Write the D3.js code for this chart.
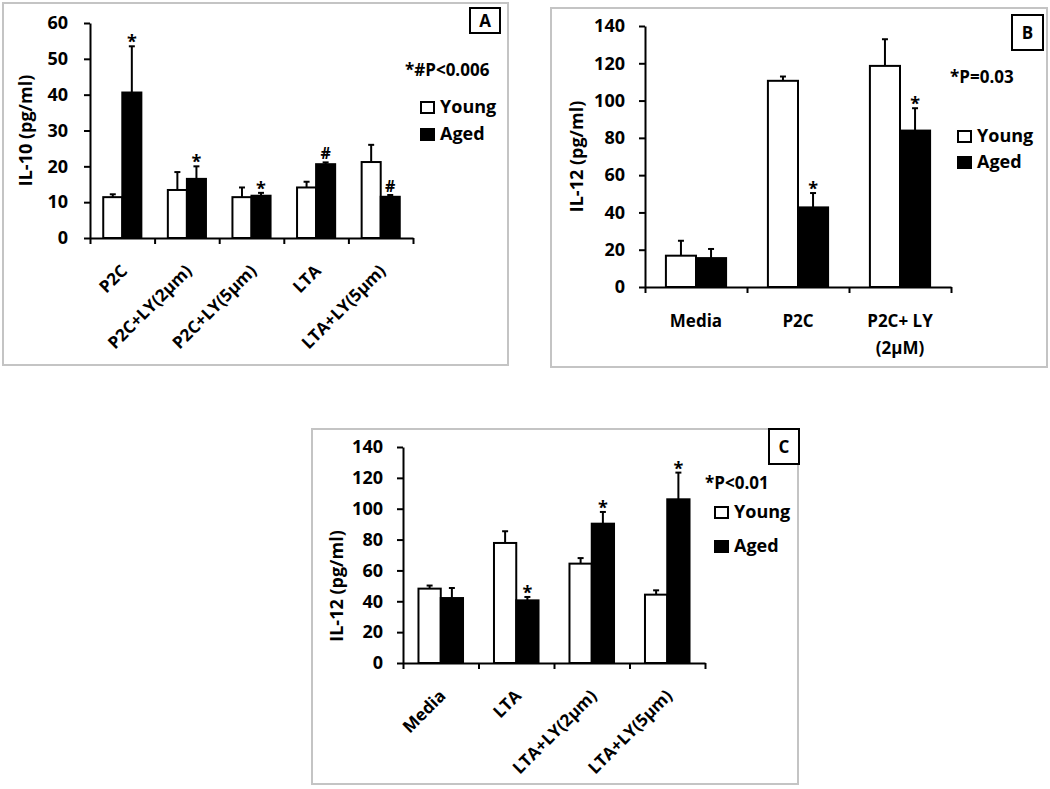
<!DOCTYPE html>
<html>
<head>
<meta charset="utf-8">
<script src="https://cdn.jsdelivr.net/npm/d3@7"></script>
<style>
  body { margin: 0; background: #fff; }
  svg text { font-family: "Open Sans", sans-serif; font-weight: bold; fill: #000; }
</style>
</head>
<body>
<div id="chart"></div>
<script>
// Panel A : IL-10
const catsA = ["P2C", "P2C+LY(2µm)", "P2C+LY(5µm)", "LTA", "LTA+LY(5µm)"];
const youngA = [11.4, 13.4, 11.4, 14.1, 21.2];
const youngErrA = [0.8, 5.0, 2.7, 1.6, 4.8];
const agedA = [40.6, 16.5, 11.8, 20.6, 11.5];
const agedErrA = [12.9, 3.5, 0.8, 0.5, 0.5];
const marksA = ["*", "*", "*", "#", "#"];

// Panel B : IL-12
const catsB = [["Media"], ["P2C"], ["P2C+ LY", "(2µM)"]];
const youngB = [16.8, 110.6, 118.6];
const youngErrB = [8.0, 2.3, 14.3];
const agedB = [15.5, 42.7, 83.9];
const agedErrB = [4.9, 7.7, 12.0];
const marksB = ["", "*", "*"];

// Panel C : IL-12
const catsC = ["Media", "LTA", "LTA+LY(2µm)", "LTA+LY(5µm)"];
const youngC = [48.2, 77.8, 64.4, 44.3];
const youngErrC = [2.0, 7.6, 3.6, 2.8];
const agedC = [42.1, 40.6, 90.3, 106.1];
const agedErrC = [6.5, 2.2, 7.6, 17.3];
const marksC = ["", "*", "*", "*"];

const seriesNames = ["Young", "Aged"];

const svg = d3.select("#chart")
  .append("svg")
  .attr("width", 1050)
  .attr("height", 789);

function drawPanel(p) {
  const g = svg.append("g");

  // cadre du panneau
  g.append("rect")
    .attr("x", p.frame[0]).attr("y", p.frame[1])
    .attr("width", p.frame[2]).attr("height", p.frame[3])
    .attr("fill", "#fff")
    .attr("stroke", "#c4c4c4")
    .attr("stroke-width", 2);

  const n = p.cats.length;
  const y = d3.scaleLinear().domain([0, p.yMax]).range([p.bottom, p.top]);
  const xb = d3.scaleBand().domain(d3.range(n)).range([p.left, p.right]);
  const xt = d3.scaleLinear().domain([0, n]).range([p.left, p.right]);
  const bw = xb.bandwidth() * 0.295;
  const center = i => xb(i) + xb.bandwidth() / 2;

  const series = [
    { vals: p.young, errs: p.youngErr, fill: "#fff", off: -bw },
    { vals: p.aged, errs: p.agedErr, fill: "#000", off: 0 }
  ];

  series.forEach(s => {
    const bars = g.append("g");
    bars.selectAll("rect")
      .data(s.vals)
      .enter().append("rect")
      .attr("x", (d, i) => center(i) + s.off)
      .attr("y", d => y(d))
      .attr("width", bw)
      .attr("height", d => y(0) - y(d))
      .attr("fill", s.fill)
      .attr("stroke", "#000")
      .attr("stroke-width", 2);

    // barres d'erreur (vers le haut seulement)
    const err = bars.selectAll("g.err")
      .data(s.vals.map((v, i) => ({ v, e: s.errs[i], i })))
      .enter().append("g")
      .attr("class", "err")
      .attr("stroke", "#000")
      .attr("stroke-width", 2);
    err.append("line")
      .attr("x1", d => center(d.i) + s.off + bw / 2)
      .attr("x2", d => center(d.i) + s.off + bw / 2)
      .attr("y1", d => y(d.v))
      .attr("y2", d => y(d.v + d.e));
    err.append("line")
      .attr("x1", d => center(d.i) + s.off + bw / 2 - 3)
      .attr("x2", d => center(d.i) + s.off + bw / 2 + 3)
      .attr("y1", d => y(d.v + d.e))
      .attr("y2", d => y(d.v + d.e));
  });

  // marques de significativité sur les barres "Aged"
  g.selectAll("text.mark")
    .data(p.marks.map((m, i) => ({ m, i })).filter(d => d.m !== ""))
    .enter().append("text")
    .attr("class", "mark")
    .attr("x", d => center(d.i) + bw / 2)
    .attr("y", d => {
      const top = y(p.aged[d.i] + p.agedErr[d.i]);
      return d.m === "#" ? top - 3 : top + 2;
    })
    .attr("text-anchor", "middle")
    .style("font-size", d => d.m === "#" ? "16px" : "18px")
    .text(d => d.m);

  // axe Y
  const yAxis = g.append("g")
    .attr("transform", `translate(${p.left},0)`)
    .call(d3.axisLeft(y)
      .tickValues(d3.range(0, p.yMax + 1, p.step))
      .tickSize(6)
      .tickSizeOuter(0)
      .tickPadding(p.tickPad));
  yAxis.select(".domain").attr("stroke-width", 2);
  yAxis.selectAll(".tick line").attr("stroke-width", 2);
  yAxis.selectAll(".tick text").style("font-size", "18px");

  // axe X avec graduations aux limites des catégories
  const xAxis = g.append("g")
    .attr("transform", `translate(0,${p.bottom})`)
    .call(d3.axisBottom(xt)
      .tickValues(d3.range(n + 1))
      .tickFormat("")
      .tickSize(6)
      .tickSizeOuter(0));
  xAxis.select(".domain").attr("stroke-width", 2);
  xAxis.selectAll(".tick line").attr("stroke-width", 2);

  if (p.rotated) {
    g.selectAll("text.xlab")
      .data(p.cats)
      .enter().append("text")
      .attr("class", "xlab")
      .attr("text-anchor", "end")
      .attr("transform", (d, i) => `translate(${center(i) + 6},${p.bottom + 34}) rotate(-45)`)
      .style("font-size", "17px")
      .text(d => d);
  } else {
    const lab = g.selectAll("text.xlab")
      .data(p.cats)
      .enter().append("text")
      .attr("class", "xlab")
      .attr("text-anchor", "middle")
      .style("font-size", "17px");
    lab.selectAll("tspan")
      .data((d, i) => d.map(t => ({ t, i })))
      .enter().append("tspan")
      .attr("x", d => center(d.i))
      .attr("y", (d, j) => p.bottom + 40 + j * 27)
      .text(d => d.t);
  }

  // titre de l'axe Y
  g.append("text")
    .attr("transform", `translate(${p.titleX},${(p.top + p.bottom) / 2 + p.titleDy}) rotate(-90)`)
    .attr("text-anchor", "middle")
    .style("font-size", "18px")
    .text(p.title);

  // légende
  g.append("text")
    .attr("x", p.legend.x)
    .attr("y", p.legend.statY)
    .style("font-size", "17px")
    .text(p.stat);

  const leg = g.selectAll("g.leg")
    .data(seriesNames)
    .enter().append("g")
    .attr("class", "leg")
    .attr("transform", (d, i) => `translate(${p.legend.boxX},${p.legend.rows[i]})`);
  leg.append("rect")
    .attr("x", 0).attr("y", -11)
    .attr("width", 13).attr("height", 11)
    .attr("fill", (d, i) => i === 0 ? "#fff" : "#000")
    .attr("stroke", "#000")
    .attr("stroke-width", 2);
  leg.append("text")
    .attr("x", 19)
    .attr("y", 0)
    .style("font-size", "18px")
    .text(d => d);

  // lettre du panneau
  g.append("rect")
    .attr("x", p.letterBox[0]).attr("y", p.letterBox[1])
    .attr("width", p.letterBox[2]).attr("height", p.letterBox[3])
    .attr("fill", "#fff")
    .attr("stroke", "#000")
    .attr("stroke-width", 2);
  g.append("text")
    .attr("x", p.letterBox[0] + p.letterBox[2] / 2)
    .attr("y", p.letterBox[1] + p.letterBox[3] / 2 + 6)
    .attr("text-anchor", "middle")
    .style("font-size", "17px")
    .text(p.letter);
}

drawPanel({
  cats: catsA, young: youngA, youngErr: youngErrA, aged: agedA, agedErr: agedErrA, marks: marksA,
  frame: [3, 3, 505, 362],
  left: 90, right: 413, bottom: 238, top: 23, yMax: 60, step: 10, tickPad: 16,
  rotated: true,
  title: "IL-10 (pg/ml)", titleX: 32, titleDy: 0,
  stat: "*#P<0.006",
  legend: { x: 405, statY: 76, boxX: 421, rows: [113, 140] },
  letterBox: [470, 8, 30, 25], letter: "A"
});

drawPanel({
  cats: catsB, young: youngB, youngErr: youngErrB, aged: agedB, agedErr: agedErrB, marks: marksB,
  frame: [551, 8, 496, 359],
  left: 645, right: 951, bottom: 287, top: 26, yMax: 140, step: 20, tickPad: 14,
  rotated: false,
  title: "IL-12 (pg/ml)", titleX: 583, titleDy: 0,
  stat: "*P=0.03",
  legend: { x: 950, statY: 83, boxX: 958, rows: [142, 168] },
  letterBox: [1012, 15, 31, 35], letter: "B"
});

drawPanel({
  cats: catsC, young: youngC, youngErr: youngErrC, aged: agedC, agedErr: agedErrC, marks: marksC,
  frame: [312, 429, 486, 355],
  left: 403, right: 705, bottom: 663, top: 447, yMax: 140, step: 20, tickPad: 14,
  rotated: true,
  title: "IL-12 (pg/ml)", titleX: 343, titleDy: 31,
  stat: "*P<0.01",
  legend: { x: 705, statY: 489, boxX: 715, rows: [518, 552] },
  letterBox: [769, 429, 30, 35], letter: "C"
});
</script>
</body>
</html>
